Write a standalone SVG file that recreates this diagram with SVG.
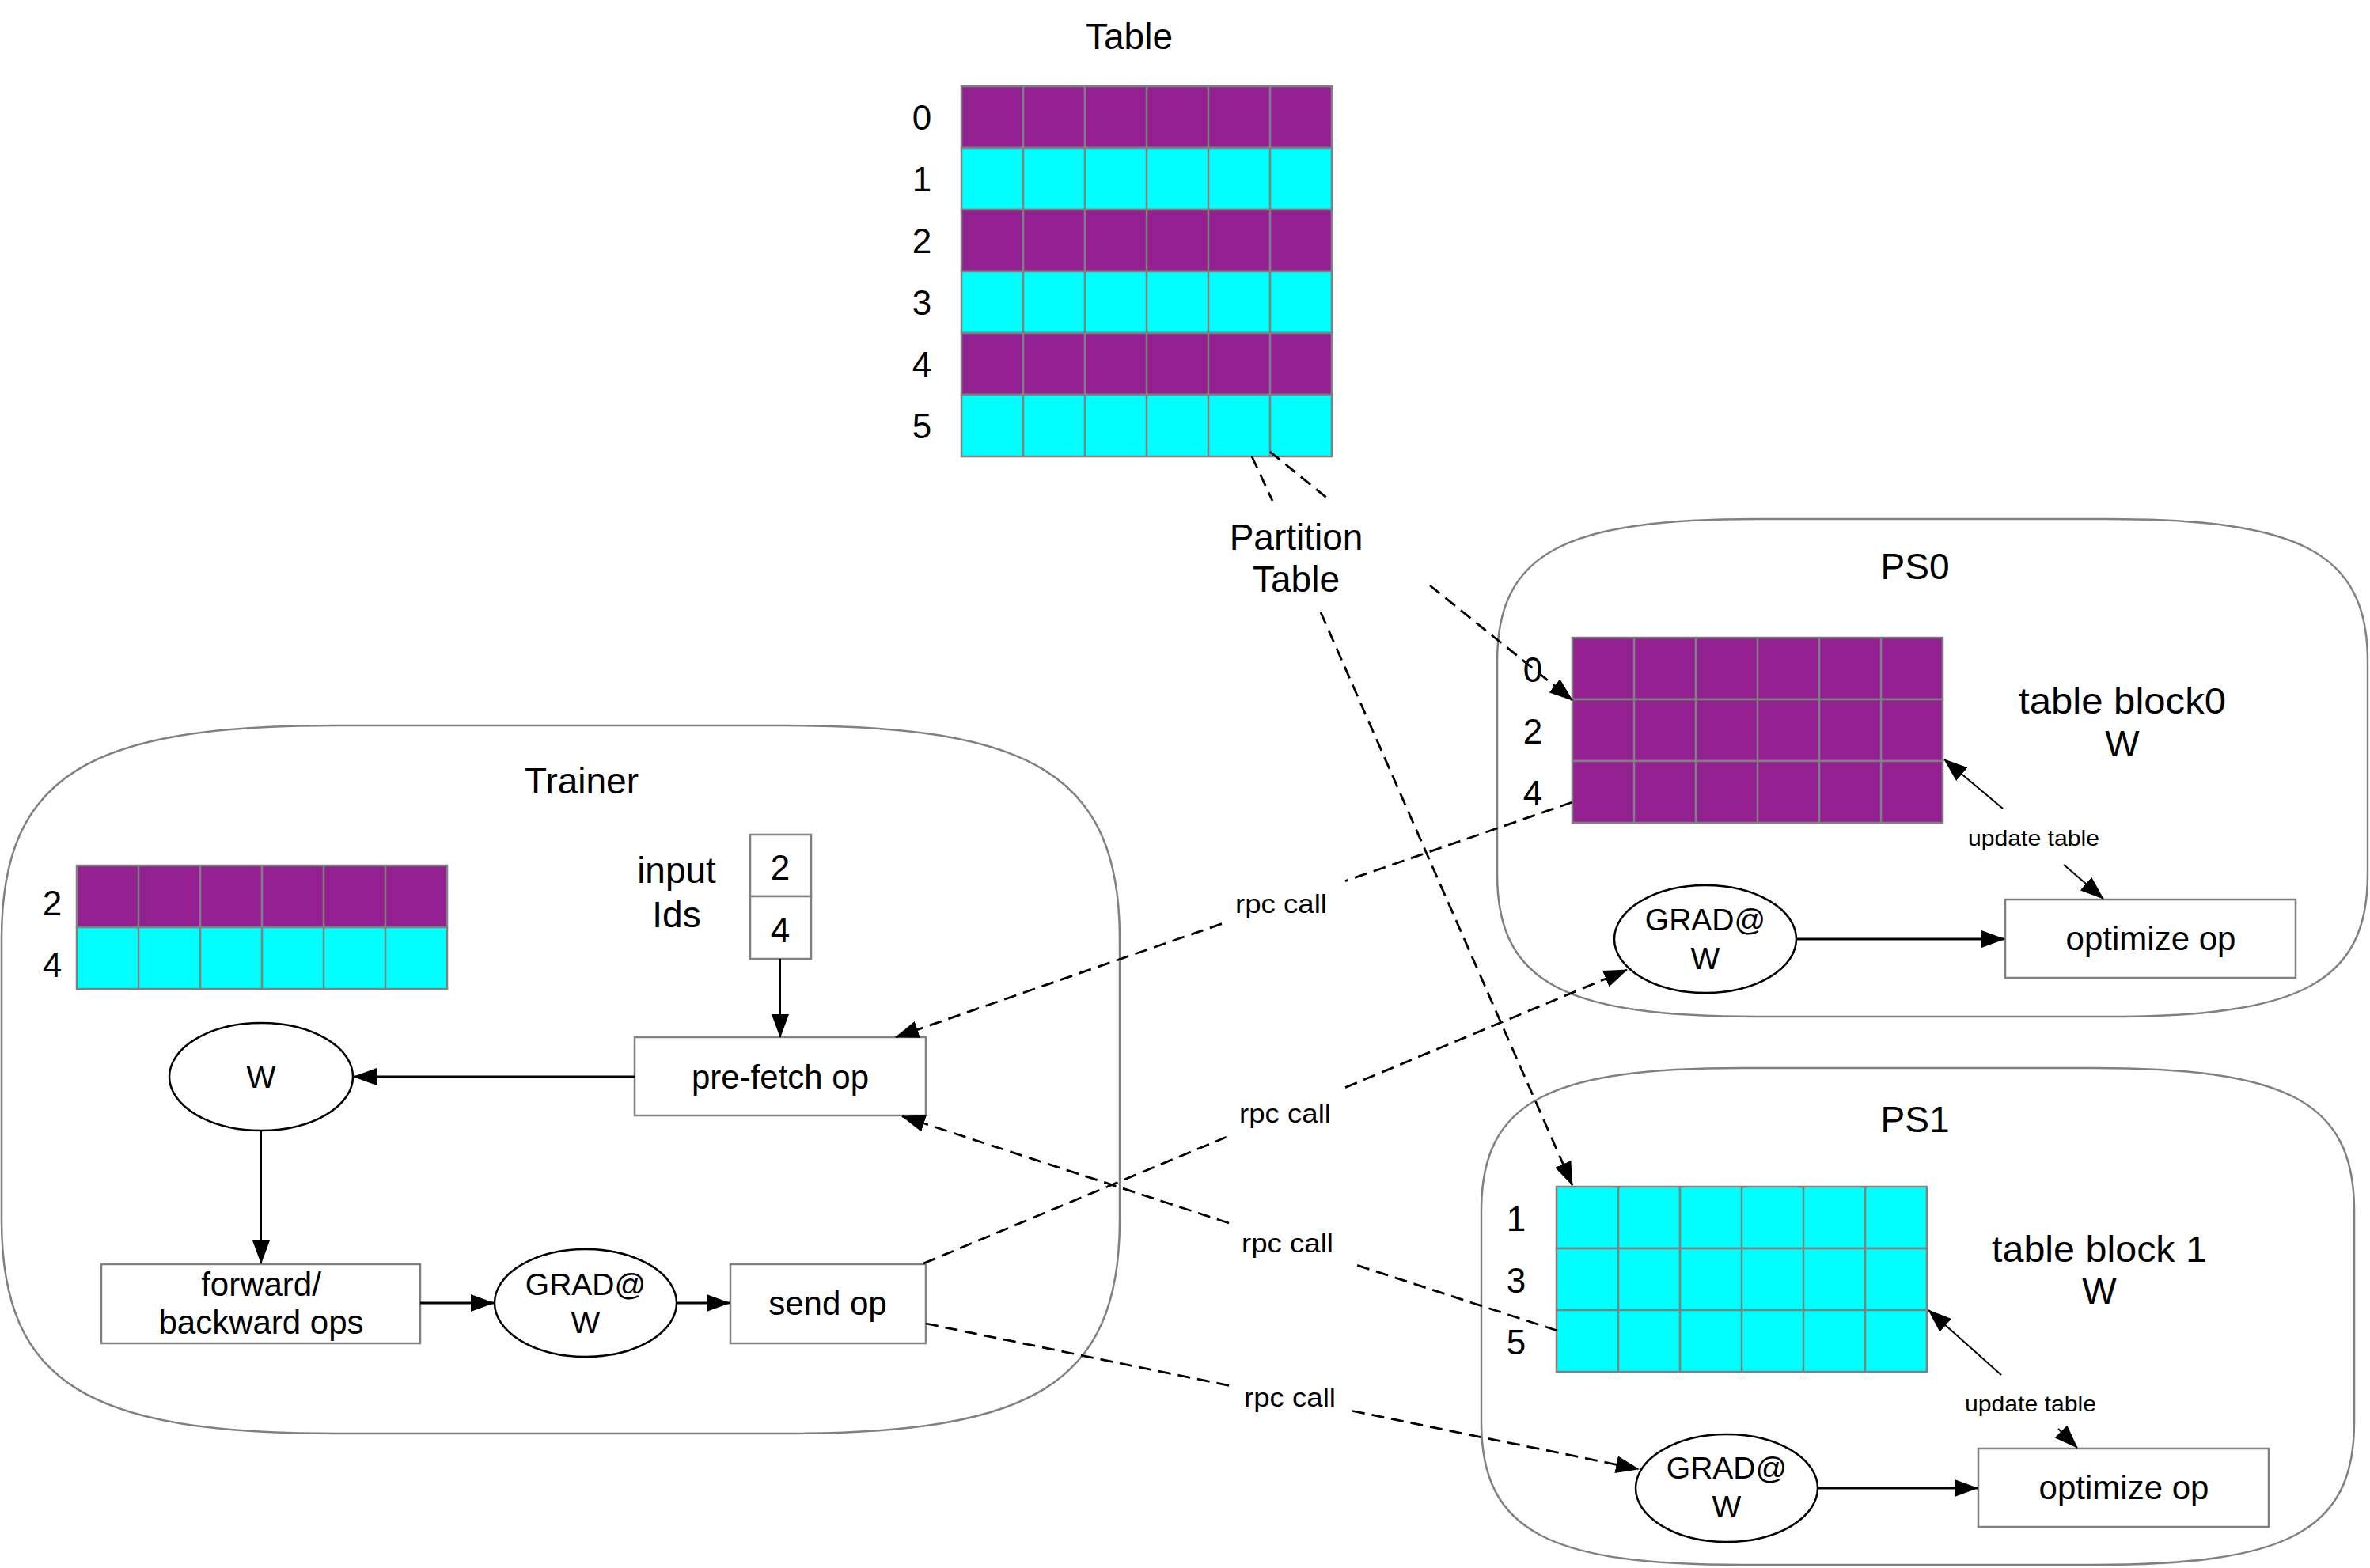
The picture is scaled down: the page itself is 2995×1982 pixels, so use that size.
<svg xmlns="http://www.w3.org/2000/svg" width="2995" height="1982" viewBox="0 0 2995 1982">
<defs>
<style>
.t{font-family:"Liberation Sans",Arial,Helvetica,sans-serif;fill:#000;text-anchor:middle}
.f46{font-size:46px}.f44{font-size:44px}.f42{font-size:42px}.f39{font-size:39px}.f34{font-size:34px}.f28{font-size:28px}
.cont{fill:none;stroke:#808080;stroke-width:2.5}
.p{fill:#932192;stroke:#808080;stroke-width:2.5}
.c{fill:#00FFFF;stroke:#808080;stroke-width:2.5}
.grid{fill:none;stroke:#808080;stroke-width:2.5}
.box{fill:#fff;stroke:#808080;stroke-width:2.5}
.ell{fill:#fff;stroke:#000;stroke-width:2.5}
.thin{fill:none;stroke:#000;stroke-width:2}
.thick{fill:none;stroke:#000;stroke-width:3}
.dash{fill:none;stroke:#000;stroke-width:2.8;stroke-dasharray:16 9}
</style>
<marker id="ah" viewBox="0 0 30 22" refX="29" refY="11" markerWidth="30" markerHeight="22" markerUnits="userSpaceOnUse" orient="auto">
<path d="M0,0 L30,11 L0,22 z" fill="#000" stroke="none"/>
</marker>
</defs>
<rect x="0" y="0" width="2995" height="1982" fill="#fff"/>

<g id="trainer">
<path class="cont" d="M426,917 L991,917 C1300,917 1415,976 1415,1187 L1415,1542 C1415,1753 1300,1812 991,1812 L426,1812 C117,1812 2,1753 2,1542 L2,1187 C2,976 117,917 426,917 Z"/>
<text class="t f46" x="735" y="1003">Trainer</text>
</g>
<g id="ps0">
<path class="cont" d="M2222,656 L2662,656 C2903,656 2992,696 2992,836 L2992,1105 C2992,1245 2903,1285 2662,1285 L2222,1285 C1981,1285 1892,1245 1892,1105 L1892,836 C1892,696 1981,656 2222,656 Z"/>
<text class="t f46" x="2420" y="732">PS0</text>
</g>
<g id="ps1">
<path class="cont" d="M2202,1350 L2645,1350 C2886,1350 2975,1390 2975,1530 L2975,1798 C2975,1938 2886,1978 2645,1978 L2202,1978 C1961,1978 1872,1938 1872,1798 L1872,1530 C1872,1390 1961,1350 2202,1350 Z"/>
<text class="t f46" x="2420" y="1431">PS1</text>
</g>

<g id="table">
<text class="t f46" x="1427" y="62">Table</text>
<rect class="p" x="1215" y="109" width="468" height="78"/>
<rect class="c" x="1215" y="187" width="468" height="78"/>
<rect class="p" x="1215" y="265" width="468" height="78"/>
<rect class="c" x="1215" y="343" width="468" height="78"/>
<rect class="p" x="1215" y="421" width="468" height="78"/>
<rect class="c" x="1215" y="499" width="468" height="78"/>
<path class="grid" d="M1293,109V577M1371,109V577M1449,109V577M1527,109V577M1605,109V577"/>
<text class="t f44" x="1165" y="164">0</text>
<text class="t f44" x="1165" y="242">1</text>
<text class="t f44" x="1165" y="320">2</text>
<text class="t f44" x="1165" y="398">3</text>
<text class="t f44" x="1165" y="476">4</text>
<text class="t f44" x="1165" y="554">5</text>
</g>

<g id="table-block0">
<rect class="p" x="1987" y="806" width="468" height="78"/>
<rect class="p" x="1987" y="884" width="468" height="78"/>
<rect class="p" x="1987" y="962" width="468" height="78"/>
<path class="grid" d="M2065,806V1040M2143,806V1040M2221,806V1040M2299,806V1040M2377,806V1040"/>
<text class="t f44" x="1937" y="862">0</text>
<text class="t f44" x="1937" y="940">2</text>
<text class="t f44" x="1937" y="1018">4</text>
<text class="t f46" x="2682" y="902" textLength="262" lengthAdjust="spacingAndGlyphs">table block0</text>
<text class="t f46" x="2682" y="956">W</text>
</g>

<g id="table-block1">
<rect class="c" x="1967" y="1500" width="468" height="78"/>
<rect class="c" x="1967" y="1578" width="468" height="78"/>
<rect class="c" x="1967" y="1656" width="468" height="78"/>
<path class="grid" d="M2045,1500V1734M2123,1500V1734M2201,1500V1734M2279,1500V1734M2357,1500V1734"/>
<text class="t f44" x="1916" y="1556">1</text>
<text class="t f44" x="1916" y="1634">3</text>
<text class="t f44" x="1916" y="1712">5</text>
<text class="t f46" x="2653" y="1595" textLength="272" lengthAdjust="spacingAndGlyphs">table block 1</text>
<text class="t f46" x="2653" y="1648">W</text>
</g>

<g id="trainer-table">
<rect class="p" x="97" y="1094" width="468" height="78"/>
<rect class="c" x="97" y="1172" width="468" height="78"/>
<path class="grid" d="M175,1094V1250M253,1094V1250M331,1094V1250M409,1094V1250M487,1094V1250"/>
<text class="t f44" x="66" y="1157">2</text>
<text class="t f44" x="66" y="1235">4</text>
</g>

<g id="input-ids">
<text class="t f46" x="855" y="1116">input</text>
<text class="t f46" x="855" y="1172">Ids</text>
<rect class="box" x="948" y="1055" width="77" height="78"/>
<rect class="box" x="948" y="1133" width="77" height="79"/>
<text class="t f44" x="986" y="1112">2</text>
<text class="t f44" x="986" y="1191">4</text>
</g>

<g id="prefetch-op">
<rect class="box" x="802" y="1311" width="368" height="99"/>
<text class="t f42" x="986" y="1376">pre-fetch op</text>
</g>
<g id="w-node">
<ellipse class="ell" cx="330" cy="1361" rx="116" ry="68" stroke-width="2"/>
<text class="t f39" x="330" y="1375">W</text>
</g>
<g id="forward-backward">
<rect class="box" x="128" y="1598" width="403" height="100"/>
<text class="t f42" x="330" y="1638">forward/</text>
<text class="t f42" x="330" y="1686">backward ops</text>
</g>
<g id="grad-trainer">
<ellipse class="ell" cx="740" cy="1647" rx="115" ry="68"/>
<text class="t f39" x="740" y="1637">GRAD@</text>
<text class="t f39" x="740" y="1685">W</text>
</g>
<g id="send-op">
<rect class="box" x="923" y="1598" width="247" height="100"/>
<text class="t f42" x="1046" y="1662">send op</text>
</g>
<g id="grad-ps0">
<ellipse class="ell" cx="2155" cy="1187" rx="115" ry="68"/>
<text class="t f39" x="2155" y="1176">GRAD@</text>
<text class="t f39" x="2155" y="1225">W</text>
</g>
<g id="optimize-ps0">
<rect class="box" x="2534" y="1137" width="367" height="99"/>
<text class="t f42" x="2718" y="1201">optimize op</text>
</g>
<g id="grad-ps1">
<ellipse class="ell" cx="2182" cy="1881" rx="115" ry="68"/>
<text class="t f39" x="2182" y="1869">GRAD@</text>
<text class="t f39" x="2182" y="1918">W</text>
</g>
<g id="optimize-ps1">
<rect class="box" x="2500" y="1831" width="367" height="99"/>
<text class="t f42" x="2684" y="1895">optimize op</text>
</g>

<g id="connectors">
<path class="thin" d="M986,1212 L986,1311" marker-end="url(#ah)"/>
<path class="thick" d="M802,1361 L447,1361" marker-end="url(#ah)"/>
<path class="thin" d="M330,1429 L330,1597" marker-end="url(#ah)"/>
<path class="thick" d="M531,1647 L624,1647" marker-end="url(#ah)"/>
<path class="thick" d="M855,1647 L922,1647" marker-end="url(#ah)"/>
<path class="thick" d="M2270,1187 L2533,1187" marker-end="url(#ah)"/>
<path class="thick" d="M2297,1881 L2499,1881" marker-end="url(#ah)"/>

<path class="thin" d="M2531,1022 L2457,960" marker-end="url(#ah)"/>
<path class="thin" d="M2608,1093 L2658,1136" marker-end="url(#ah)"/>
<text class="t f28" x="2570" y="1069" textLength="166" lengthAdjust="spacingAndGlyphs">update table</text>

<path class="thin" d="M2529,1738 L2437,1656" marker-end="url(#ah)"/>
<path class="thin" d="M2601,1806 L2625,1830" marker-end="url(#ah)"/>
<text class="t f28" x="2566" y="1784" textLength="166" lengthAdjust="spacingAndGlyphs">update table</text>

<path class="dash" d="M1987,1014 L1700,1113.6"/>
<path class="dash" d="M1544,1167.6 L1132,1311" marker-end="url(#ah)"/>
<text class="t f34" x="1619" y="1154" textLength="116" lengthAdjust="spacingAndGlyphs">rpc call</text>

<path class="dash" d="M1167,1597 L1549.6,1437.3"/>
<path class="dash" d="M1700,1374.6 L2056,1226" marker-end="url(#ah)"/>
<text class="t f34" x="1624" y="1419" textLength="116" lengthAdjust="spacingAndGlyphs">rpc call</text>

<path class="dash" d="M1968,1682 L1711,1598"/>
<path class="dash" d="M1553,1546 L1140,1411" marker-end="url(#ah)"/>
<text class="t f34" x="1627" y="1583" textLength="116" lengthAdjust="spacingAndGlyphs">rpc call</text>

<path class="dash" d="M1170,1673 L1555,1751.7"/>
<path class="dash" d="M1709,1783.5 L2071,1857" marker-end="url(#ah)"/>
<text class="t f34" x="1630" y="1778" textLength="116" lengthAdjust="spacingAndGlyphs">rpc call</text>

<path class="dash" d="M1605,571 L1680,632"/>
<path class="dash" d="M1807,740 L1987,885" marker-end="url(#ah)"/>
<path class="dash" d="M1582,577 L1608,633"/>
<path class="dash" d="M1669,774 L1987,1498" marker-end="url(#ah)"/>
<text class="t f46" x="1638" y="695">Partition</text>
<text class="t f46" x="1638" y="748">Table</text>
</g>
</svg>
